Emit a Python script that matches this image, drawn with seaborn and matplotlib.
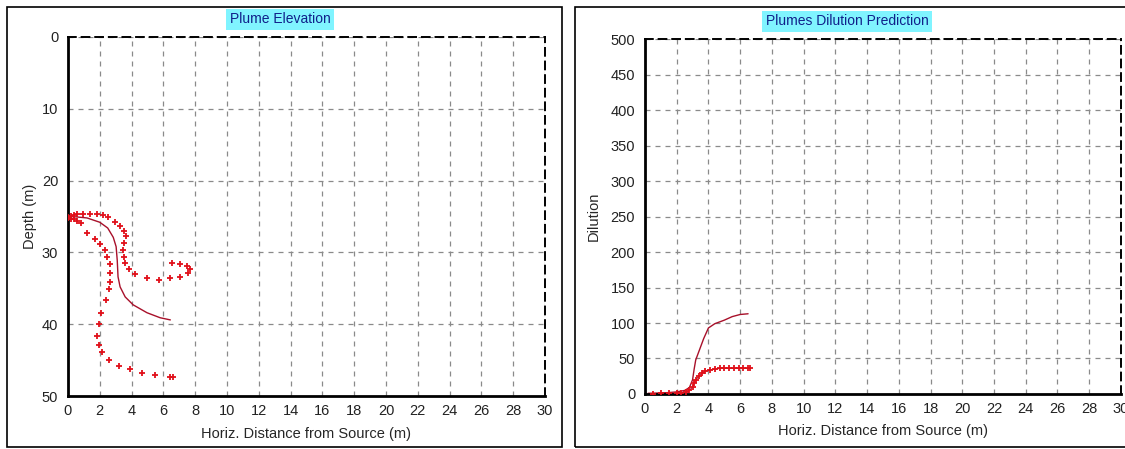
import numpy as np
import pandas as pd
import matplotlib
matplotlib.use("Agg")
import matplotlib.pyplot as plt
import matplotlib.patches as patches
from matplotlib.ticker import MultipleLocator
import seaborn as sns

sns.set_style("white")
plt.rcParams['font.family'] = ['Liberation Sans', 'DejaVu Sans']

# Plume elevation: centre line (x, depth)
elev_center_x = [0.0, 0.5, 1.2, 2.0, 2.5, 2.85, 3.03, 3.1, 3.15, 3.28, 3.6, 4.1, 4.97, 5.8, 6.44]
elev_center_y = [25.0, 25.05, 25.2, 25.8, 26.6, 27.9, 29.2, 31.1, 33.4, 34.8, 36.2, 37.3, 38.4, 39.1, 39.4]

# Plume elevation: upper boundary (loops back at the end)
elev_upper_x = [0.0, 0.2, 0.4, 0.6, 0.95, 1.37, 1.8, 2.2, 2.5, 2.97, 3.28, 3.53, 3.64, 3.55, 3.45,
                3.5, 3.6, 3.85, 4.23, 4.97, 5.75, 6.39, 7.07, 7.55, 7.7, 7.5, 7.07, 6.55]
elev_upper_y = [25.0, 24.9, 24.8, 24.7, 24.65, 24.65, 24.7, 24.8, 25.1, 25.8, 26.3, 27.0, 27.7, 28.7, 29.7,
                30.6, 31.5, 32.3, 33.0, 33.6, 33.8, 33.6, 33.4, 32.9, 32.3, 31.9, 31.6, 31.5]

# Plume elevation: lower boundary
elev_lower_x = [0.0, 0.2, 0.4, 0.6, 0.8, 1.2, 1.7, 2.0, 2.33, 2.46, 2.65, 2.65, 2.65, 2.59, 2.4, 2.08,
                1.96, 1.83, 1.96, 2.15, 2.59, 3.22, 3.91, 4.67, 5.49, 6.44, 6.6]
elev_lower_y = [25.2, 25.3, 25.4, 25.6, 25.9, 27.3, 28.1, 28.8, 29.7, 30.6, 31.6, 32.9, 34.1, 35.1, 36.6, 38.4,
                40.0, 41.6, 42.9, 43.9, 45.0, 45.8, 46.3, 46.8, 47.1, 47.3, 47.3]

# Dilution: centre line
dil_center_x = [0.2, 1.0, 1.5, 2.0, 2.5, 2.8, 3.0, 3.1, 3.2, 3.4, 3.7, 4.0, 4.4, 5.0, 5.5, 6.0, 6.5]
dil_center_y = [1, 1.5, 2, 3, 5, 9, 20, 35, 48, 60, 78, 93, 99, 104, 109, 112, 113]

# Dilution: marker series
dil_marker_x = [0.5, 1.0, 1.5, 2.0, 2.3, 2.6, 2.8, 3.0, 3.1, 3.2, 3.4, 3.6, 3.8, 4.1, 4.4, 4.7,
                5.0, 5.3, 5.6, 5.9, 6.2, 6.5, 6.6]
dil_marker_y = [0.5, 0.8, 1, 1.5, 2, 3, 5, 10, 15, 20, 25, 29, 32, 34, 35, 36,
                36, 36, 36, 36, 36, 36, 36]

x_ticks = list(range(0, 31, 2))

line_color = '#a8102a'
mark_color = '#e0101a'
grid_kw = dict(color='#8a8a8a', linestyle=(0, (4, 4)), linewidth=0.9)

fig = plt.figure(figsize=(11.25, 4.49), dpi=100)
fig.patch.set_facecolor('white')

# panel frames
fig.patches.append(patches.Rectangle((0.0062, 0.004), 0.4934, 0.98, transform=fig.transFigure,
                                     fill=False, edgecolor='black', linewidth=1.2))
fig.patches.append(patches.Rectangle((0.511, 0.004), 0.6, 0.98, transform=fig.transFigure,
                                     fill=False, edgecolor='black', linewidth=1.2))

ax1 = fig.add_axes([0.0604, 0.118, 0.424, 0.7996])
ax2 = fig.add_axes([0.5733, 0.1225, 0.4231, 0.7906])

# left: plume elevation
sns.lineplot(x=elev_center_x, y=elev_center_y, sort=False, estimator=None,
             color=line_color, linewidth=1.0, ax=ax1)
sns.scatterplot(x=elev_upper_x, y=elev_upper_y, marker='+', s=18, linewidth=1.3,
                color=mark_color, ax=ax1, zorder=3)
sns.scatterplot(x=elev_lower_x, y=elev_lower_y, marker='+', s=18, linewidth=1.3,
                color=mark_color, ax=ax1, zorder=3)
ax1.set_xlim(0, 30)
ax1.set_ylim(50, 0)
ax1.yaxis.set_major_locator(MultipleLocator(10))
ax1.set_ylabel('Depth (m)', fontsize=10.5)
ax1.yaxis.set_label_coords(-0.065, 0.5)

# right: dilution
sns.lineplot(x=dil_center_x, y=dil_center_y, sort=False, estimator=None,
             color=line_color, linewidth=1.0, ax=ax2)
sns.lineplot(x=dil_marker_x, y=dil_marker_y, sort=False, estimator=None,
             color=line_color, linewidth=0.8, ax=ax2)
sns.scatterplot(x=dil_marker_x, y=dil_marker_y, marker='+', s=18, linewidth=1.3,
                color=mark_color, ax=ax2, zorder=3)
ax2.set_xlim(0, 30)
ax2.set_ylim(0, 500)
ax2.yaxis.set_major_locator(MultipleLocator(50))
ax2.yaxis.set_minor_locator(MultipleLocator(10))
ax2.set_ylabel('Dilution', fontsize=10.5)
ax2.yaxis.set_label_coords(-0.092, 0.5)

for ax in (ax1, ax2):
    ax.set_xticks(x_ticks)
    ax.xaxis.set_minor_locator(MultipleLocator(0.5))
    ax.set_xlabel('Horiz. Distance from Source (m)', fontsize=10.5)
    ax.xaxis.set_label_coords(0.5, -0.085)
    ax.grid(True, which='major', **grid_kw)
    ax.set_axisbelow(True)
    for side in ('left', 'bottom'):
        ax.spines[side].set_linewidth(2.0)
        ax.spines[side].set_color('black')
    for side in ('top', 'right'):
        ax.spines[side].set_linestyle((0, (4, 3)))
        ax.spines[side].set_linewidth(1.4)
        ax.spines[side].set_color('black')
    ax.tick_params(axis='x', which='major', direction='inout', length=6, width=1,
                   labelsize=10.5, colors='#222222', pad=3)
    ax.tick_params(axis='x', which='minor', direction='inout', length=3, width=1)
    ax.tick_params(axis='y', which='major', direction='out', length=5, width=1,
                   labelsize=10.5, colors='#222222', pad=2)
    ax.tick_params(axis='y', which='minor', direction='inout', length=4, width=1)
    ax.tick_params(top=False, right=False)

fig.text(0.249, 0.957, 'Plume Elevation', ha='center', va='center', fontsize=10,
         color='#10208a', bbox=dict(facecolor='#80f4ff', edgecolor='none', pad=2.5))
fig.text(0.753, 0.953, 'Plumes Dilution Prediction', ha='center', va='center', fontsize=10,
         color='#10208a', bbox=dict(facecolor='#80f4ff', edgecolor='none', pad=2.5))

fig.savefig('out.png', dpi=100)
